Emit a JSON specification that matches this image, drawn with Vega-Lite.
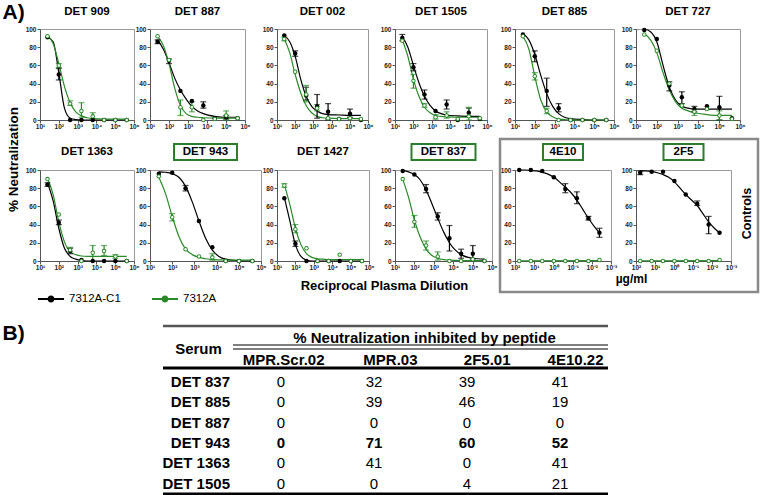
{
"$schema":"https://vega.github.io/schema/vega-lite/v6.json",
"background":"white",
"padding":{"left":1,"top":0,"right":0,"bottom":0},
"columns":6,
"align":"none",
"bounds":"flush",
"spacing":{"row":9,"column":16},
"config":{
 "view":{"stroke":"#9a9a9a","strokeWidth":1},
 "font":"Liberation Sans",
 "axis":{"labelFont":"Liberation Sans","labelFontSize":6.5,"labelFontWeight":"bold","labelColor":"#222","tickColor":"#555","domainColor":"#555","tickSize":3,"labelPadding":1,"grid":false,"titleFont":"Liberation Sans","titleFontWeight":"bold","titleColor":"#000","titleFontSize":13},
 "axisX":{"labelPadding":0}
},
"datasets":{
"t":[{"p":"DET 909"},{"p":"DET 887"},{"p":"DET 002"},{"p":"DET 1505"},{"p":"DET 885"},{"p":"DET 727"},{"p":"DET 1363"},{"p":"DET 943"},{"p":"DET 1427"},{"p":"DET 837"},{"p":"4E10"},{"p":"2F5"}],
"leg":[{"s":"7312A-C1"},{"s":"7312A"}],
"tlines":[{"r":"top"},{"r":"dbl"},{"r":"thick"},{"r":"bottom"}],
"thead":[{"t":"% Neutralization inhibited by peptide"},{"t":"Serum"}],
"tbl":[
{"serum":"DET 837","c":"MPR.Scr.02","v":0},{"serum":"DET 837","c":"MPR.03","v":32},{"serum":"DET 837","c":"2F5.01","v":39},{"serum":"DET 837","c":"4E10.22","v":41},
{"serum":"DET 885","c":"MPR.Scr.02","v":0},{"serum":"DET 885","c":"MPR.03","v":39},{"serum":"DET 885","c":"2F5.01","v":46},{"serum":"DET 885","c":"4E10.22","v":19},
{"serum":"DET 887","c":"MPR.Scr.02","v":0},{"serum":"DET 887","c":"MPR.03","v":0},{"serum":"DET 887","c":"2F5.01","v":0},{"serum":"DET 887","c":"4E10.22","v":0},
{"serum":"DET 943","c":"MPR.Scr.02","v":0},{"serum":"DET 943","c":"MPR.03","v":71},{"serum":"DET 943","c":"2F5.01","v":60},{"serum":"DET 943","c":"4E10.22","v":52},
{"serum":"DET 1363","c":"MPR.Scr.02","v":0},{"serum":"DET 1363","c":"MPR.03","v":41},{"serum":"DET 1363","c":"2F5.01","v":0},{"serum":"DET 1363","c":"4E10.22","v":41},
{"serum":"DET 1505","c":"MPR.Scr.02","v":0},{"serum":"DET 1505","c":"MPR.03","v":0},{"serum":"DET 1505","c":"2F5.01","v":4},{"serum":"DET 1505","c":"4E10.22","v":21}
],
"d":[
{"p":"DET 909","s":"7312A-C1","k":"p","x":25,"y":91},
{"p":"DET 909","s":"7312A-C1","k":"p","x":100,"y":50,"lo":44,"hi":57},
{"p":"DET 909","s":"7312A-C1","k":"p","x":400,"y":0},
{"p":"DET 909","s":"7312A-C1","k":"p","x":1600,"y":0},
{"p":"DET 909","s":"7312A-C1","k":"p","x":6400,"y":0},
{"p":"DET 909","s":"7312A-C1","k":"p","x":25600,"y":0},
{"p":"DET 909","s":"7312A-C1","k":"p","x":102400,"y":0},
{"p":"DET 909","s":"7312A-C1","k":"p","x":409600,"y":0},
{"p":"DET 909","s":"7312A","k":"p","x":25,"y":92},
{"p":"DET 909","s":"7312A","k":"p","x":100,"y":60,"lo":57,"hi":62},
{"p":"DET 909","s":"7312A","k":"p","x":400,"y":18,"lo":16,"hi":21},
{"p":"DET 909","s":"7312A","k":"p","x":1600,"y":10,"lo":3,"hi":19},
{"p":"DET 909","s":"7312A","k":"p","x":6400,"y":4,"lo":1,"hi":8},
{"p":"DET 909","s":"7312A","k":"p","x":25600,"y":0},
{"p":"DET 909","s":"7312A","k":"p","x":102400,"y":0},
{"p":"DET 909","s":"7312A","k":"p","x":409600,"y":0},
{"p":"DET 909","s":"7312A-C1","k":"f","x":25,"y":91},{"p":"DET 909","s":"7312A-C1","k":"f","x":50,"y":86},{"p":"DET 909","s":"7312A-C1","k":"f","x":100,"y":52},{"p":"DET 909","s":"7312A-C1","k":"f","x":200,"y":13},{"p":"DET 909","s":"7312A-C1","k":"f","x":400,"y":2},{"p":"DET 909","s":"7312A-C1","k":"f","x":800,"y":0.5},{"p":"DET 909","s":"7312A-C1","k":"f","x":1600,"y":0},{"p":"DET 909","s":"7312A-C1","k":"f","x":409600,"y":0},
{"p":"DET 909","s":"7312A","k":"f","x":25,"y":93},{"p":"DET 909","s":"7312A","k":"f","x":50,"y":84},{"p":"DET 909","s":"7312A","k":"f","x":100,"y":62},{"p":"DET 909","s":"7312A","k":"f","x":200,"y":37},{"p":"DET 909","s":"7312A","k":"f","x":400,"y":19},{"p":"DET 909","s":"7312A","k":"f","x":800,"y":9},{"p":"DET 909","s":"7312A","k":"f","x":1600,"y":4.5},{"p":"DET 909","s":"7312A","k":"f","x":3200,"y":2.5},{"p":"DET 909","s":"7312A","k":"f","x":6400,"y":1.5},{"p":"DET 909","s":"7312A","k":"f","x":25600,"y":1},{"p":"DET 909","s":"7312A","k":"f","x":409600,"y":1},

{"p":"DET 887","s":"7312A-C1","k":"p","x":25,"y":86,"lo":84,"hi":88},
{"p":"DET 887","s":"7312A-C1","k":"p","x":100,"y":65,"lo":62,"hi":67},
{"p":"DET 887","s":"7312A-C1","k":"p","x":400,"y":32},
{"p":"DET 887","s":"7312A-C1","k":"p","x":1600,"y":21},
{"p":"DET 887","s":"7312A-C1","k":"p","x":6400,"y":16,"lo":13,"hi":20},
{"p":"DET 887","s":"7312A-C1","k":"p","x":25600,"y":2},
{"p":"DET 887","s":"7312A-C1","k":"p","x":102400,"y":3,"lo":1,"hi":5},
{"p":"DET 887","s":"7312A-C1","k":"p","x":409600,"y":2},
{"p":"DET 887","s":"7312A","k":"p","x":25,"y":92},
{"p":"DET 887","s":"7312A","k":"p","x":100,"y":66},
{"p":"DET 887","s":"7312A","k":"p","x":400,"y":14,"lo":5,"hi":22},
{"p":"DET 887","s":"7312A","k":"p","x":1600,"y":14,"lo":9,"hi":20},
{"p":"DET 887","s":"7312A","k":"p","x":6400,"y":0},
{"p":"DET 887","s":"7312A","k":"p","x":25600,"y":1},
{"p":"DET 887","s":"7312A","k":"p","x":102400,"y":5,"lo":0,"hi":10},
{"p":"DET 887","s":"7312A","k":"p","x":409600,"y":2},
{"p":"DET 887","s":"7312A-C1","k":"f","x":25,"y":88},{"p":"DET 887","s":"7312A-C1","k":"f","x":50,"y":78},{"p":"DET 887","s":"7312A-C1","k":"f","x":100,"y":63},{"p":"DET 887","s":"7312A-C1","k":"f","x":200,"y":46},{"p":"DET 887","s":"7312A-C1","k":"f","x":400,"y":33},{"p":"DET 887","s":"7312A-C1","k":"f","x":800,"y":23},{"p":"DET 887","s":"7312A-C1","k":"f","x":1600,"y":15},{"p":"DET 887","s":"7312A-C1","k":"f","x":3200,"y":10},{"p":"DET 887","s":"7312A-C1","k":"f","x":6400,"y":7},{"p":"DET 887","s":"7312A-C1","k":"f","x":25600,"y":4},{"p":"DET 887","s":"7312A-C1","k":"f","x":102400,"y":3},{"p":"DET 887","s":"7312A-C1","k":"f","x":409600,"y":3},
{"p":"DET 887","s":"7312A","k":"f","x":25,"y":92},{"p":"DET 887","s":"7312A","k":"f","x":50,"y":82},{"p":"DET 887","s":"7312A","k":"f","x":100,"y":62},{"p":"DET 887","s":"7312A","k":"f","x":200,"y":35},{"p":"DET 887","s":"7312A","k":"f","x":400,"y":16},{"p":"DET 887","s":"7312A","k":"f","x":800,"y":7},{"p":"DET 887","s":"7312A","k":"f","x":1600,"y":4},{"p":"DET 887","s":"7312A","k":"f","x":3200,"y":3},{"p":"DET 887","s":"7312A","k":"f","x":6400,"y":2.5},{"p":"DET 887","s":"7312A","k":"f","x":25600,"y":2},{"p":"DET 887","s":"7312A","k":"f","x":409600,"y":2},

{"p":"DET 002","s":"7312A-C1","k":"p","x":25,"y":93},
{"p":"DET 002","s":"7312A-C1","k":"p","x":100,"y":73,"lo":70,"hi":76},
{"p":"DET 002","s":"7312A-C1","k":"p","x":400,"y":27,"lo":22,"hi":36},
{"p":"DET 002","s":"7312A-C1","k":"p","x":1600,"y":15,"lo":2,"hi":28},
{"p":"DET 002","s":"7312A-C1","k":"p","x":6400,"y":9,"lo":0,"hi":18},
{"p":"DET 002","s":"7312A-C1","k":"p","x":25600,"y":1},
{"p":"DET 002","s":"7312A-C1","k":"p","x":102400,"y":7,"lo":3,"hi":12},
{"p":"DET 002","s":"7312A-C1","k":"p","x":409600,"y":0},
{"p":"DET 002","s":"7312A","k":"p","x":25,"y":89,"lo":87,"hi":91},
{"p":"DET 002","s":"7312A","k":"p","x":100,"y":53},
{"p":"DET 002","s":"7312A","k":"p","x":400,"y":28,"lo":20,"hi":38},
{"p":"DET 002","s":"7312A","k":"p","x":1600,"y":13,"lo":10,"hi":17},
{"p":"DET 002","s":"7312A","k":"p","x":6400,"y":2},
{"p":"DET 002","s":"7312A","k":"p","x":25600,"y":1},
{"p":"DET 002","s":"7312A","k":"p","x":102400,"y":2},
{"p":"DET 002","s":"7312A","k":"p","x":409600,"y":1},
{"p":"DET 002","s":"7312A-C1","k":"f","x":25,"y":93},{"p":"DET 002","s":"7312A-C1","k":"f","x":50,"y":86},{"p":"DET 002","s":"7312A-C1","k":"f","x":100,"y":70},{"p":"DET 002","s":"7312A-C1","k":"f","x":200,"y":45},{"p":"DET 002","s":"7312A-C1","k":"f","x":400,"y":26},{"p":"DET 002","s":"7312A-C1","k":"f","x":800,"y":15},{"p":"DET 002","s":"7312A-C1","k":"f","x":1600,"y":10},{"p":"DET 002","s":"7312A-C1","k":"f","x":3200,"y":7},{"p":"DET 002","s":"7312A-C1","k":"f","x":6400,"y":6},{"p":"DET 002","s":"7312A-C1","k":"f","x":25600,"y":5.5},{"p":"DET 002","s":"7312A-C1","k":"f","x":102400,"y":5},{"p":"DET 002","s":"7312A-C1","k":"f","x":409600,"y":5},
{"p":"DET 002","s":"7312A","k":"f","x":25,"y":89},{"p":"DET 002","s":"7312A","k":"f","x":50,"y":74},{"p":"DET 002","s":"7312A","k":"f","x":100,"y":50},{"p":"DET 002","s":"7312A","k":"f","x":200,"y":30},{"p":"DET 002","s":"7312A","k":"f","x":400,"y":16},{"p":"DET 002","s":"7312A","k":"f","x":800,"y":8},{"p":"DET 002","s":"7312A","k":"f","x":1600,"y":4},{"p":"DET 002","s":"7312A","k":"f","x":3200,"y":2.5},{"p":"DET 002","s":"7312A","k":"f","x":6400,"y":2},{"p":"DET 002","s":"7312A","k":"f","x":25600,"y":1.5},{"p":"DET 002","s":"7312A","k":"f","x":409600,"y":1.5},

{"p":"DET 1505","s":"7312A-C1","k":"p","x":25,"y":90,"lo":87,"hi":94},
{"p":"DET 1505","s":"7312A-C1","k":"p","x":100,"y":58,"lo":54,"hi":62},
{"p":"DET 1505","s":"7312A-C1","k":"p","x":400,"y":28,"lo":23,"hi":33},
{"p":"DET 1505","s":"7312A-C1","k":"p","x":1600,"y":10},
{"p":"DET 1505","s":"7312A-C1","k":"p","x":6400,"y":17,"lo":12,"hi":22},
{"p":"DET 1505","s":"7312A-C1","k":"p","x":25600,"y":0},
{"p":"DET 1505","s":"7312A-C1","k":"p","x":102400,"y":8,"lo":4,"hi":13},
{"p":"DET 1505","s":"7312A-C1","k":"p","x":409600,"y":1},
{"p":"DET 1505","s":"7312A","k":"p","x":25,"y":87},
{"p":"DET 1505","s":"7312A","k":"p","x":100,"y":43,"lo":35,"hi":50},
{"p":"DET 1505","s":"7312A","k":"p","x":400,"y":16,"lo":14,"hi":18},
{"p":"DET 1505","s":"7312A","k":"p","x":1600,"y":3,"lo":1,"hi":6},
{"p":"DET 1505","s":"7312A","k":"p","x":6400,"y":5,"lo":2,"hi":9},
{"p":"DET 1505","s":"7312A","k":"p","x":25600,"y":1},
{"p":"DET 1505","s":"7312A","k":"p","x":102400,"y":4,"lo":0,"hi":14},
{"p":"DET 1505","s":"7312A","k":"p","x":409600,"y":2},
{"p":"DET 1505","s":"7312A-C1","k":"f","x":25,"y":91},{"p":"DET 1505","s":"7312A-C1","k":"f","x":50,"y":80},{"p":"DET 1505","s":"7312A-C1","k":"f","x":100,"y":60},{"p":"DET 1505","s":"7312A-C1","k":"f","x":200,"y":41},{"p":"DET 1505","s":"7312A-C1","k":"f","x":400,"y":26},{"p":"DET 1505","s":"7312A-C1","k":"f","x":800,"y":16},{"p":"DET 1505","s":"7312A-C1","k":"f","x":1600,"y":10},{"p":"DET 1505","s":"7312A-C1","k":"f","x":3200,"y":7},{"p":"DET 1505","s":"7312A-C1","k":"f","x":6400,"y":5.5},{"p":"DET 1505","s":"7312A-C1","k":"f","x":25600,"y":4.5},{"p":"DET 1505","s":"7312A-C1","k":"f","x":102400,"y":4},{"p":"DET 1505","s":"7312A-C1","k":"f","x":409600,"y":4},
{"p":"DET 1505","s":"7312A","k":"f","x":25,"y":88},{"p":"DET 1505","s":"7312A","k":"f","x":50,"y":70},{"p":"DET 1505","s":"7312A","k":"f","x":100,"y":45},{"p":"DET 1505","s":"7312A","k":"f","x":200,"y":26},{"p":"DET 1505","s":"7312A","k":"f","x":400,"y":14},{"p":"DET 1505","s":"7312A","k":"f","x":800,"y":8},{"p":"DET 1505","s":"7312A","k":"f","x":1600,"y":5},{"p":"DET 1505","s":"7312A","k":"f","x":3200,"y":4},{"p":"DET 1505","s":"7312A","k":"f","x":6400,"y":3.5},{"p":"DET 1505","s":"7312A","k":"f","x":25600,"y":3},{"p":"DET 1505","s":"7312A","k":"f","x":409600,"y":3},

{"p":"DET 885","s":"7312A-C1","k":"p","x":25,"y":94},
{"p":"DET 885","s":"7312A-C1","k":"p","x":100,"y":70,"lo":64,"hi":76},
{"p":"DET 885","s":"7312A-C1","k":"p","x":400,"y":32,"lo":15,"hi":46},
{"p":"DET 885","s":"7312A-C1","k":"p","x":1600,"y":13,"lo":9,"hi":18},
{"p":"DET 885","s":"7312A-C1","k":"p","x":6400,"y":0},
{"p":"DET 885","s":"7312A-C1","k":"p","x":25600,"y":0},
{"p":"DET 885","s":"7312A-C1","k":"p","x":102400,"y":0},
{"p":"DET 885","s":"7312A-C1","k":"p","x":409600,"y":0},
{"p":"DET 885","s":"7312A","k":"p","x":25,"y":92},
{"p":"DET 885","s":"7312A","k":"p","x":100,"y":48,"lo":44,"hi":52},
{"p":"DET 885","s":"7312A","k":"p","x":400,"y":10,"lo":7,"hi":13},
{"p":"DET 885","s":"7312A","k":"p","x":1600,"y":0},
{"p":"DET 885","s":"7312A","k":"p","x":6400,"y":0},
{"p":"DET 885","s":"7312A","k":"p","x":25600,"y":0},
{"p":"DET 885","s":"7312A","k":"p","x":102400,"y":0},
{"p":"DET 885","s":"7312A","k":"p","x":409600,"y":0},
{"p":"DET 885","s":"7312A-C1","k":"f","x":25,"y":95},{"p":"DET 885","s":"7312A-C1","k":"f","x":50,"y":88},{"p":"DET 885","s":"7312A-C1","k":"f","x":100,"y":72},{"p":"DET 885","s":"7312A-C1","k":"f","x":200,"y":49},{"p":"DET 885","s":"7312A-C1","k":"f","x":400,"y":29},{"p":"DET 885","s":"7312A-C1","k":"f","x":800,"y":15},{"p":"DET 885","s":"7312A-C1","k":"f","x":1600,"y":7},{"p":"DET 885","s":"7312A-C1","k":"f","x":3200,"y":3},{"p":"DET 885","s":"7312A-C1","k":"f","x":6400,"y":1.5},{"p":"DET 885","s":"7312A-C1","k":"f","x":25600,"y":0.5},{"p":"DET 885","s":"7312A-C1","k":"f","x":102400,"y":0},{"p":"DET 885","s":"7312A-C1","k":"f","x":409600,"y":0},
{"p":"DET 885","s":"7312A","k":"f","x":25,"y":92},{"p":"DET 885","s":"7312A","k":"f","x":50,"y":78},{"p":"DET 885","s":"7312A","k":"f","x":100,"y":48},{"p":"DET 885","s":"7312A","k":"f","x":200,"y":22},{"p":"DET 885","s":"7312A","k":"f","x":400,"y":9},{"p":"DET 885","s":"7312A","k":"f","x":800,"y":3.5},{"p":"DET 885","s":"7312A","k":"f","x":1600,"y":1},{"p":"DET 885","s":"7312A","k":"f","x":3200,"y":0.5},{"p":"DET 885","s":"7312A","k":"f","x":6400,"y":0},{"p":"DET 885","s":"7312A","k":"f","x":409600,"y":0},

{"p":"DET 727","s":"7312A-C1","k":"p","x":25,"y":99},
{"p":"DET 727","s":"7312A-C1","k":"p","x":100,"y":89},
{"p":"DET 727","s":"7312A-C1","k":"p","x":400,"y":38,"lo":32,"hi":42},
{"p":"DET 727","s":"7312A-C1","k":"p","x":1600,"y":25,"lo":18,"hi":31},
{"p":"DET 727","s":"7312A-C1","k":"p","x":6400,"y":12,"lo":9,"hi":15},
{"p":"DET 727","s":"7312A-C1","k":"p","x":25600,"y":15},
{"p":"DET 727","s":"7312A-C1","k":"p","x":102400,"y":14,"lo":0,"hi":26},
{"p":"DET 727","s":"7312A-C1","k":"p","x":409600,"y":2},
{"p":"DET 727","s":"7312A","k":"p","x":25,"y":94},
{"p":"DET 727","s":"7312A","k":"p","x":100,"y":76},
{"p":"DET 727","s":"7312A","k":"p","x":400,"y":40},
{"p":"DET 727","s":"7312A","k":"p","x":1600,"y":16},
{"p":"DET 727","s":"7312A","k":"p","x":6400,"y":9,"lo":5,"hi":12},
{"p":"DET 727","s":"7312A","k":"p","x":25600,"y":12},
{"p":"DET 727","s":"7312A","k":"p","x":102400,"y":5,"lo":0,"hi":10},
{"p":"DET 727","s":"7312A","k":"p","x":409600,"y":1},
{"p":"DET 727","s":"7312A-C1","k":"f","x":25,"y":100},{"p":"DET 727","s":"7312A-C1","k":"f","x":50,"y":97},{"p":"DET 727","s":"7312A-C1","k":"f","x":100,"y":86},{"p":"DET 727","s":"7312A-C1","k":"f","x":200,"y":60},{"p":"DET 727","s":"7312A-C1","k":"f","x":400,"y":36},{"p":"DET 727","s":"7312A-C1","k":"f","x":800,"y":22},{"p":"DET 727","s":"7312A-C1","k":"f","x":1600,"y":15},{"p":"DET 727","s":"7312A-C1","k":"f","x":3200,"y":13},{"p":"DET 727","s":"7312A-C1","k":"f","x":6400,"y":12},{"p":"DET 727","s":"7312A-C1","k":"f","x":25600,"y":12},{"p":"DET 727","s":"7312A-C1","k":"f","x":102400,"y":12},{"p":"DET 727","s":"7312A-C1","k":"f","x":409600,"y":12},
{"p":"DET 727","s":"7312A","k":"f","x":25,"y":95},{"p":"DET 727","s":"7312A","k":"f","x":50,"y":88},{"p":"DET 727","s":"7312A","k":"f","x":100,"y":74},{"p":"DET 727","s":"7312A","k":"f","x":200,"y":52},{"p":"DET 727","s":"7312A","k":"f","x":400,"y":33},{"p":"DET 727","s":"7312A","k":"f","x":800,"y":20},{"p":"DET 727","s":"7312A","k":"f","x":1600,"y":13},{"p":"DET 727","s":"7312A","k":"f","x":3200,"y":10},{"p":"DET 727","s":"7312A","k":"f","x":6400,"y":8},{"p":"DET 727","s":"7312A","k":"f","x":25600,"y":6},{"p":"DET 727","s":"7312A","k":"f","x":102400,"y":5},{"p":"DET 727","s":"7312A","k":"f","x":409600,"y":5},

{"p":"DET 1363","s":"7312A-C1","k":"p","x":25,"y":84,"lo":82,"hi":86},
{"p":"DET 1363","s":"7312A-C1","k":"p","x":100,"y":42,"lo":40,"hi":45},
{"p":"DET 1363","s":"7312A-C1","k":"p","x":400,"y":11,"lo":8,"hi":14},
{"p":"DET 1363","s":"7312A-C1","k":"p","x":1600,"y":1},
{"p":"DET 1363","s":"7312A-C1","k":"p","x":6400,"y":0},
{"p":"DET 1363","s":"7312A-C1","k":"p","x":25600,"y":0},
{"p":"DET 1363","s":"7312A-C1","k":"p","x":102400,"y":0},
{"p":"DET 1363","s":"7312A-C1","k":"p","x":409600,"y":0},
{"p":"DET 1363","s":"7312A","k":"p","x":25,"y":90},
{"p":"DET 1363","s":"7312A","k":"p","x":100,"y":51},
{"p":"DET 1363","s":"7312A","k":"p","x":400,"y":12,"lo":10,"hi":15},
{"p":"DET 1363","s":"7312A","k":"p","x":1600,"y":0},
{"p":"DET 1363","s":"7312A","k":"p","x":6400,"y":9,"lo":0,"hi":17},
{"p":"DET 1363","s":"7312A","k":"p","x":25600,"y":11,"lo":6,"hi":17},
{"p":"DET 1363","s":"7312A","k":"p","x":102400,"y":5,"lo":3,"hi":7},
{"p":"DET 1363","s":"7312A","k":"p","x":409600,"y":0},
{"p":"DET 1363","s":"7312A-C1","k":"f","x":25,"y":86},{"p":"DET 1363","s":"7312A-C1","k":"f","x":50,"y":66},{"p":"DET 1363","s":"7312A-C1","k":"f","x":100,"y":36},{"p":"DET 1363","s":"7312A-C1","k":"f","x":200,"y":14},{"p":"DET 1363","s":"7312A-C1","k":"f","x":400,"y":5},{"p":"DET 1363","s":"7312A-C1","k":"f","x":800,"y":2},{"p":"DET 1363","s":"7312A-C1","k":"f","x":1600,"y":0.5},{"p":"DET 1363","s":"7312A-C1","k":"f","x":3200,"y":0},{"p":"DET 1363","s":"7312A-C1","k":"f","x":409600,"y":0},
{"p":"DET 1363","s":"7312A","k":"f","x":25,"y":91},{"p":"DET 1363","s":"7312A","k":"f","x":50,"y":73},{"p":"DET 1363","s":"7312A","k":"f","x":100,"y":43},{"p":"DET 1363","s":"7312A","k":"f","x":200,"y":21},{"p":"DET 1363","s":"7312A","k":"f","x":400,"y":10},{"p":"DET 1363","s":"7312A","k":"f","x":800,"y":7},{"p":"DET 1363","s":"7312A","k":"f","x":1600,"y":5.5},{"p":"DET 1363","s":"7312A","k":"f","x":3200,"y":5},{"p":"DET 1363","s":"7312A","k":"f","x":409600,"y":5},

{"p":"DET 943","s":"7312A-C1","k":"p","x":25,"y":96},
{"p":"DET 943","s":"7312A-C1","k":"p","x":100,"y":97},
{"p":"DET 943","s":"7312A-C1","k":"p","x":400,"y":80,"lo":77,"hi":83},
{"p":"DET 943","s":"7312A-C1","k":"p","x":1600,"y":44},
{"p":"DET 943","s":"7312A-C1","k":"p","x":6400,"y":15},
{"p":"DET 943","s":"7312A-C1","k":"p","x":25600,"y":0},
{"p":"DET 943","s":"7312A-C1","k":"p","x":102400,"y":0},
{"p":"DET 943","s":"7312A-C1","k":"p","x":409600,"y":0},
{"p":"DET 943","s":"7312A","k":"p","x":25,"y":93},
{"p":"DET 943","s":"7312A","k":"p","x":100,"y":48,"lo":44,"hi":52},
{"p":"DET 943","s":"7312A","k":"p","x":400,"y":13},
{"p":"DET 943","s":"7312A","k":"p","x":1600,"y":5},
{"p":"DET 943","s":"7312A","k":"p","x":6400,"y":4,"lo":1,"hi":8},
{"p":"DET 943","s":"7312A","k":"p","x":25600,"y":0},
{"p":"DET 943","s":"7312A","k":"p","x":102400,"y":0},
{"p":"DET 943","s":"7312A","k":"p","x":409600,"y":0},
{"p":"DET 943","s":"7312A-C1","k":"f","x":25,"y":98},{"p":"DET 943","s":"7312A-C1","k":"f","x":50,"y":97.5},{"p":"DET 943","s":"7312A-C1","k":"f","x":100,"y":96},{"p":"DET 943","s":"7312A-C1","k":"f","x":200,"y":92},{"p":"DET 943","s":"7312A-C1","k":"f","x":400,"y":82},{"p":"DET 943","s":"7312A-C1","k":"f","x":800,"y":65},{"p":"DET 943","s":"7312A-C1","k":"f","x":1600,"y":44},{"p":"DET 943","s":"7312A-C1","k":"f","x":3200,"y":25},{"p":"DET 943","s":"7312A-C1","k":"f","x":6400,"y":12},{"p":"DET 943","s":"7312A-C1","k":"f","x":12800,"y":5},{"p":"DET 943","s":"7312A-C1","k":"f","x":25600,"y":2},{"p":"DET 943","s":"7312A-C1","k":"f","x":102400,"y":0.3},{"p":"DET 943","s":"7312A-C1","k":"f","x":409600,"y":0},
{"p":"DET 943","s":"7312A","k":"f","x":25,"y":92},{"p":"DET 943","s":"7312A","k":"f","x":50,"y":74},{"p":"DET 943","s":"7312A","k":"f","x":100,"y":49},{"p":"DET 943","s":"7312A","k":"f","x":200,"y":27},{"p":"DET 943","s":"7312A","k":"f","x":400,"y":13},{"p":"DET 943","s":"7312A","k":"f","x":800,"y":7},{"p":"DET 943","s":"7312A","k":"f","x":1600,"y":4},{"p":"DET 943","s":"7312A","k":"f","x":3200,"y":2.5},{"p":"DET 943","s":"7312A","k":"f","x":6400,"y":1.5},{"p":"DET 943","s":"7312A","k":"f","x":25600,"y":1},{"p":"DET 943","s":"7312A","k":"f","x":409600,"y":1},

{"p":"DET 1427","s":"7312A-C1","k":"p","x":25,"y":69},
{"p":"DET 1427","s":"7312A-C1","k":"p","x":100,"y":19,"lo":16,"hi":22},
{"p":"DET 1427","s":"7312A-C1","k":"p","x":400,"y":0},
{"p":"DET 1427","s":"7312A-C1","k":"p","x":1600,"y":0},
{"p":"DET 1427","s":"7312A-C1","k":"p","x":6400,"y":0},
{"p":"DET 1427","s":"7312A-C1","k":"p","x":25600,"y":0},
{"p":"DET 1427","s":"7312A-C1","k":"p","x":102400,"y":0},
{"p":"DET 1427","s":"7312A-C1","k":"p","x":409600,"y":0},
{"p":"DET 1427","s":"7312A","k":"p","x":25,"y":83,"lo":81,"hi":85},
{"p":"DET 1427","s":"7312A","k":"p","x":100,"y":35,"lo":31,"hi":40},
{"p":"DET 1427","s":"7312A","k":"p","x":400,"y":14},
{"p":"DET 1427","s":"7312A","k":"p","x":1600,"y":0},
{"p":"DET 1427","s":"7312A","k":"p","x":6400,"y":0},
{"p":"DET 1427","s":"7312A","k":"p","x":25600,"y":7},
{"p":"DET 1427","s":"7312A","k":"p","x":102400,"y":0},
{"p":"DET 1427","s":"7312A","k":"p","x":409600,"y":0},
{"p":"DET 1427","s":"7312A-C1","k":"f","x":25,"y":70},{"p":"DET 1427","s":"7312A-C1","k":"f","x":50,"y":44},{"p":"DET 1427","s":"7312A-C1","k":"f","x":100,"y":18},{"p":"DET 1427","s":"7312A-C1","k":"f","x":200,"y":5},{"p":"DET 1427","s":"7312A-C1","k":"f","x":400,"y":1},{"p":"DET 1427","s":"7312A-C1","k":"f","x":800,"y":0},{"p":"DET 1427","s":"7312A-C1","k":"f","x":409600,"y":0},
{"p":"DET 1427","s":"7312A","k":"f","x":25,"y":84},{"p":"DET 1427","s":"7312A","k":"f","x":50,"y":62},{"p":"DET 1427","s":"7312A","k":"f","x":100,"y":36},{"p":"DET 1427","s":"7312A","k":"f","x":200,"y":18},{"p":"DET 1427","s":"7312A","k":"f","x":400,"y":8},{"p":"DET 1427","s":"7312A","k":"f","x":800,"y":4},{"p":"DET 1427","s":"7312A","k":"f","x":1600,"y":2.5},{"p":"DET 1427","s":"7312A","k":"f","x":3200,"y":2},{"p":"DET 1427","s":"7312A","k":"f","x":6400,"y":1.5},{"p":"DET 1427","s":"7312A","k":"f","x":409600,"y":1.5},

{"p":"DET 837","s":"7312A-C1","k":"p","x":25,"y":99},
{"p":"DET 837","s":"7312A-C1","k":"p","x":100,"y":95},
{"p":"DET 837","s":"7312A-C1","k":"p","x":400,"y":79,"lo":75,"hi":84},
{"p":"DET 837","s":"7312A-C1","k":"p","x":1600,"y":49,"lo":45,"hi":53},
{"p":"DET 837","s":"7312A-C1","k":"p","x":6400,"y":25,"lo":11,"hi":39},
{"p":"DET 837","s":"7312A-C1","k":"p","x":25600,"y":8,"lo":3,"hi":13},
{"p":"DET 837","s":"7312A-C1","k":"p","x":102400,"y":8,"lo":2,"hi":17},
{"p":"DET 837","s":"7312A-C1","k":"p","x":409600,"y":0},
{"p":"DET 837","s":"7312A","k":"p","x":25,"y":90},
{"p":"DET 837","s":"7312A","k":"p","x":100,"y":43,"lo":37,"hi":50},
{"p":"DET 837","s":"7312A","k":"p","x":400,"y":17,"lo":12,"hi":22},
{"p":"DET 837","s":"7312A","k":"p","x":1600,"y":5,"lo":1,"hi":10},
{"p":"DET 837","s":"7312A","k":"p","x":6400,"y":0},
{"p":"DET 837","s":"7312A","k":"p","x":25600,"y":0},
{"p":"DET 837","s":"7312A","k":"p","x":102400,"y":2},
{"p":"DET 837","s":"7312A","k":"p","x":409600,"y":0},
{"p":"DET 837","s":"7312A-C1","k":"f","x":25,"y":99.5},{"p":"DET 837","s":"7312A-C1","k":"f","x":50,"y":98},{"p":"DET 837","s":"7312A-C1","k":"f","x":100,"y":95},{"p":"DET 837","s":"7312A-C1","k":"f","x":200,"y":89},{"p":"DET 837","s":"7312A-C1","k":"f","x":400,"y":78},{"p":"DET 837","s":"7312A-C1","k":"f","x":800,"y":63},{"p":"DET 837","s":"7312A-C1","k":"f","x":1600,"y":47},{"p":"DET 837","s":"7312A-C1","k":"f","x":3200,"y":32},{"p":"DET 837","s":"7312A-C1","k":"f","x":6400,"y":20},{"p":"DET 837","s":"7312A-C1","k":"f","x":25600,"y":7},{"p":"DET 837","s":"7312A-C1","k":"f","x":102400,"y":3},{"p":"DET 837","s":"7312A-C1","k":"f","x":409600,"y":2},
{"p":"DET 837","s":"7312A","k":"f","x":25,"y":90},{"p":"DET 837","s":"7312A","k":"f","x":50,"y":70},{"p":"DET 837","s":"7312A","k":"f","x":100,"y":45},{"p":"DET 837","s":"7312A","k":"f","x":200,"y":26},{"p":"DET 837","s":"7312A","k":"f","x":400,"y":13},{"p":"DET 837","s":"7312A","k":"f","x":800,"y":6},{"p":"DET 837","s":"7312A","k":"f","x":1600,"y":3},{"p":"DET 837","s":"7312A","k":"f","x":3200,"y":1.5},{"p":"DET 837","s":"7312A","k":"f","x":6400,"y":1},{"p":"DET 837","s":"7312A","k":"f","x":25600,"y":0.5},{"p":"DET 837","s":"7312A","k":"f","x":409600,"y":0.5},

{"p":"4E10","s":"7312A-C1","k":"p","x":60,"y":100},
{"p":"4E10","s":"7312A-C1","k":"p","x":15,"y":100},
{"p":"4E10","s":"7312A-C1","k":"p","x":3.8,"y":99},
{"p":"4E10","s":"7312A-C1","k":"p","x":0.95,"y":92},
{"p":"4E10","s":"7312A-C1","k":"p","x":0.24,"y":79,"lo":75,"hi":85},
{"p":"4E10","s":"7312A-C1","k":"p","x":0.06,"y":69,"lo":63,"hi":76},
{"p":"4E10","s":"7312A-C1","k":"p","x":0.015,"y":47,"lo":45,"hi":49},
{"p":"4E10","s":"7312A-C1","k":"p","x":0.004,"y":31,"lo":26,"hi":36},
{"p":"4E10","s":"7312A","k":"p","x":60,"y":0},
{"p":"4E10","s":"7312A","k":"p","x":15,"y":0},
{"p":"4E10","s":"7312A","k":"p","x":3.8,"y":0},
{"p":"4E10","s":"7312A","k":"p","x":0.95,"y":0},
{"p":"4E10","s":"7312A","k":"p","x":0.24,"y":0},
{"p":"4E10","s":"7312A","k":"p","x":0.06,"y":0},
{"p":"4E10","s":"7312A","k":"p","x":0.015,"y":0},
{"p":"4E10","s":"7312A","k":"p","x":0.004,"y":1},
{"p":"4E10","s":"7312A-C1","k":"f","x":60,"y":100},{"p":"4E10","s":"7312A-C1","k":"f","x":30,"y":100},{"p":"4E10","s":"7312A-C1","k":"f","x":15,"y":99.5},{"p":"4E10","s":"7312A-C1","k":"f","x":7.5,"y":99},{"p":"4E10","s":"7312A-C1","k":"f","x":3.8,"y":97.5},{"p":"4E10","s":"7312A-C1","k":"f","x":1.9,"y":95.5},{"p":"4E10","s":"7312A-C1","k":"f","x":0.95,"y":92},{"p":"4E10","s":"7312A-C1","k":"f","x":0.48,"y":87},{"p":"4E10","s":"7312A-C1","k":"f","x":0.24,"y":81},{"p":"4E10","s":"7312A-C1","k":"f","x":0.12,"y":75},{"p":"4E10","s":"7312A-C1","k":"f","x":0.06,"y":67},{"p":"4E10","s":"7312A-C1","k":"f","x":0.03,"y":57},{"p":"4E10","s":"7312A-C1","k":"f","x":0.015,"y":47},{"p":"4E10","s":"7312A-C1","k":"f","x":0.0075,"y":38},{"p":"4E10","s":"7312A-C1","k":"f","x":0.004,"y":31},
{"p":"4E10","s":"7312A","k":"f","x":60,"y":0.3},{"p":"4E10","s":"7312A","k":"f","x":0.004,"y":0.5},

{"p":"2F5","s":"7312A-C1","k":"p","x":60,"y":97,"lo":95,"hi":99},
{"p":"2F5","s":"7312A-C1","k":"p","x":15,"y":98},
{"p":"2F5","s":"7312A-C1","k":"p","x":3.8,"y":98},
{"p":"2F5","s":"7312A-C1","k":"p","x":0.95,"y":88},
{"p":"2F5","s":"7312A-C1","k":"p","x":0.24,"y":73},
{"p":"2F5","s":"7312A-C1","k":"p","x":0.06,"y":63,"lo":61,"hi":66},
{"p":"2F5","s":"7312A-C1","k":"p","x":0.015,"y":40,"lo":30,"hi":49},
{"p":"2F5","s":"7312A-C1","k":"p","x":0.004,"y":31},
{"p":"2F5","s":"7312A","k":"p","x":60,"y":0},
{"p":"2F5","s":"7312A","k":"p","x":15,"y":0},
{"p":"2F5","s":"7312A","k":"p","x":3.8,"y":0},
{"p":"2F5","s":"7312A","k":"p","x":0.95,"y":0},
{"p":"2F5","s":"7312A","k":"p","x":0.24,"y":0},
{"p":"2F5","s":"7312A","k":"p","x":0.06,"y":0},
{"p":"2F5","s":"7312A","k":"p","x":0.015,"y":0},
{"p":"2F5","s":"7312A","k":"p","x":0.004,"y":1},
{"p":"2F5","s":"7312A-C1","k":"f","x":60,"y":99},{"p":"2F5","s":"7312A-C1","k":"f","x":30,"y":99},{"p":"2F5","s":"7312A-C1","k":"f","x":15,"y":98.5},{"p":"2F5","s":"7312A-C1","k":"f","x":7.5,"y":97},{"p":"2F5","s":"7312A-C1","k":"f","x":3.8,"y":95},{"p":"2F5","s":"7312A-C1","k":"f","x":1.9,"y":92},{"p":"2F5","s":"7312A-C1","k":"f","x":0.95,"y":87},{"p":"2F5","s":"7312A-C1","k":"f","x":0.48,"y":80},{"p":"2F5","s":"7312A-C1","k":"f","x":0.24,"y":73},{"p":"2F5","s":"7312A-C1","k":"f","x":0.12,"y":67},{"p":"2F5","s":"7312A-C1","k":"f","x":0.06,"y":61},{"p":"2F5","s":"7312A-C1","k":"f","x":0.03,"y":52},{"p":"2F5","s":"7312A-C1","k":"f","x":0.015,"y":43},{"p":"2F5","s":"7312A-C1","k":"f","x":0.0075,"y":36},{"p":"2F5","s":"7312A-C1","k":"f","x":0.004,"y":31},
{"p":"2F5","s":"7312A","k":"f","x":60,"y":0.3},{"p":"2F5","s":"7312A","k":"f","x":0.004,"y":0.5}
]
},
"concat":[
{"width":94,"height":16,"view":{"stroke":null},"data":{"name":"t"},"transform":[{"filter":"datum.p=='DET 909'"}],"mark":{"type":"text","font":"Liberation Sans","fontSize":11.5,"fontWeight":"bold"},"encoding":{"text":{"field":"p"}}},
{"width":95,"height":16,"view":{"stroke":null},"data":{"name":"t"},"transform":[{"filter":"datum.p=='DET 887'"}],"mark":{"type":"text","font":"Liberation Sans","fontSize":11.5,"fontWeight":"bold"},"encoding":{"text":{"field":"p"}}},
{"width":102,"height":16,"view":{"stroke":null},"data":{"name":"t"},"transform":[{"filter":"datum.p=='DET 002'"}],"mark":{"type":"text","font":"Liberation Sans","fontSize":11.5,"fontWeight":"bold","dx":-5.5},"encoding":{"text":{"field":"p"}}},
{"width":104,"height":16,"view":{"stroke":null},"data":{"name":"t"},"transform":[{"filter":"datum.p=='DET 1505'"}],"mark":{"type":"text","font":"Liberation Sans","fontSize":11.5,"fontWeight":"bold","dx":-6},"encoding":{"text":{"field":"p"}}},
{"width":105,"height":16,"view":{"stroke":null},"data":{"name":"t"},"transform":[{"filter":"datum.p=='DET 885'"}],"mark":{"type":"text","font":"Liberation Sans","fontSize":11.5,"fontWeight":"bold","dx":-3},"encoding":{"text":{"field":"p"}}},
{"width":104,"height":16,"view":{"stroke":null},"data":{"name":"t"},"transform":[{"filter":"datum.p=='DET 727'"}],"mark":{"type":"text","font":"Liberation Sans","fontSize":11.5,"fontWeight":"bold"},"encoding":{"text":{"field":"p"}}},

{"width":94,"height":91,"data":{"name":"d"},"transform":[{"filter":"datum.p=='DET 909'"}],
 "encoding":{"x":{"field":"x","type":"quantitative","title":"A)","scale":{"type":"log","domain":[10,1000000],"nice":false},"axis":{"values":[10,100,1000,10000,100000,1000000],"labelExpr":"'10'+(datum.value<1?'⁻':'')+['⁰','¹','²','³','⁴','⁵','⁶'][abs(round(log(datum.value)/LN10))]","labelFlush":false,"labelOverlap":false,"titleX":-38,"titleY":-119,"titleAlign":"left","titleBaseline":"top","titleFontSize":21,"titleAngle":0}},
  "y":{"field":"y","type":"quantitative","title":"% Neutralization","scale":{"domain":[0,100],"nice":false},"axis":{"values":[0,20,40,60,80,100],"titleX":-27,"titleY":130,"titleFontSize":13.5,"titleBaseline":"middle","titleAlign":"center"}},
  "color":{"field":"s","type":"nominal","scale":{"domain":["7312A-C1","7312A"],"range":["#000000","#2a8a2a"]},"legend":null}},
 "layer":[
  {"transform":[{"filter":"datum.k=='f'"}],"mark":{"type":"line","interpolate":"monotone","strokeWidth":1.2}},
  {"transform":[{"filter":"datum.lo!=null"}],"mark":{"type":"errorbar","ticks":{"size":6},"thickness":1.2},"encoding":{"y":{"field":"lo","type":"quantitative","title":"% Neutralization","scale":{"domain":[0,100],"nice":false},"axis":{"values":[0,20,40,60,80,100],"titleX":-27,"titleY":130,"titleFontSize":13.5,"titleBaseline":"middle","titleAlign":"center"}},"y2":{"field":"hi"}}},
  {"transform":[{"filter":"datum.k=='p'"}],"mark":{"type":"point","filled":true,"size":20,"opacity":1}},
  {"transform":[{"filter":"datum.k=='p'&&datum.s=='7312A'"}],"mark":{"type":"point","filled":true,"size":6,"opacity":1},"encoding":{"color":{"value":"white"}}}
 ]},
{"width":95,"height":91,"data":{"name":"d"},"transform":[{"filter":"datum.p=='DET 887'"}],
 "encoding":{"x":{"field":"x","type":"quantitative","title":null,"scale":{"type":"log","domain":[10,1000000],"nice":false},"axis":{"values":[10,100,1000,10000,100000,1000000],"labelExpr":"'10'+(datum.value<1?'⁻':'')+['⁰','¹','²','³','⁴','⁵','⁶'][abs(round(log(datum.value)/LN10))]","labelFlush":false,"labelOverlap":false}},
  "y":{"field":"y","type":"quantitative","title":null,"scale":{"domain":[0,100],"nice":false},"axis":{"values":[0,20,40,60,80,100]}},
  "color":{"field":"s","type":"nominal","scale":{"domain":["7312A-C1","7312A"],"range":["#000000","#2a8a2a"]},"legend":null}},
 "layer":[
  {"transform":[{"filter":"datum.k=='f'"}],"mark":{"type":"line","interpolate":"monotone","strokeWidth":1.2}},
  {"transform":[{"filter":"datum.lo!=null"}],"mark":{"type":"errorbar","ticks":{"size":6},"thickness":1.2},"encoding":{"y":{"field":"lo","type":"quantitative","title":null,"scale":{"domain":[0,100],"nice":false},"axis":{"values":[0,20,40,60,80,100]}},"y2":{"field":"hi"}}},
  {"transform":[{"filter":"datum.k=='p'"}],"mark":{"type":"point","filled":true,"size":20,"opacity":1}},
  {"transform":[{"filter":"datum.k=='p'&&datum.s=='7312A'"}],"mark":{"type":"point","filled":true,"size":6,"opacity":1},"encoding":{"color":{"value":"white"}}}
 ]},
{"width":91,"height":91,"data":{"name":"d"},"transform":[{"filter":"datum.p=='DET 002'"}],
 "encoding":{"x":{"field":"x","type":"quantitative","title":null,"scale":{"type":"log","domain":[10,1000000],"nice":false},"axis":{"values":[10,100,1000,10000,100000,1000000],"labelExpr":"'10'+(datum.value<1?'⁻':'')+['⁰','¹','²','³','⁴','⁵','⁶'][abs(round(log(datum.value)/LN10))]","labelFlush":false,"labelOverlap":false}},
  "y":{"field":"y","type":"quantitative","title":null,"scale":{"domain":[0,100],"nice":false},"axis":{"values":[0,20,40,60,80,100]}},
  "color":{"field":"s","type":"nominal","scale":{"domain":["7312A-C1","7312A"],"range":["#000000","#2a8a2a"]},"legend":null}},
 "layer":[
  {"transform":[{"filter":"datum.k=='f'"}],"mark":{"type":"line","interpolate":"monotone","strokeWidth":1.2}},
  {"transform":[{"filter":"datum.lo!=null"}],"mark":{"type":"errorbar","ticks":{"size":6},"thickness":1.2},"encoding":{"y":{"field":"lo","type":"quantitative","title":null,"scale":{"domain":[0,100],"nice":false},"axis":{"values":[0,20,40,60,80,100]}},"y2":{"field":"hi"}}},
  {"transform":[{"filter":"datum.k=='p'"}],"mark":{"type":"point","filled":true,"size":20,"opacity":1}},
  {"transform":[{"filter":"datum.k=='p'&&datum.s=='7312A'"}],"mark":{"type":"point","filled":true,"size":6,"opacity":1},"encoding":{"color":{"value":"white"}}}
 ]},
{"width":92,"height":91,"data":{"name":"d"},"transform":[{"filter":"datum.p=='DET 1505'"}],
 "encoding":{"x":{"field":"x","type":"quantitative","title":null,"scale":{"type":"log","domain":[10,1000000],"nice":false},"axis":{"values":[10,100,1000,10000,100000,1000000],"labelExpr":"'10'+(datum.value<1?'⁻':'')+['⁰','¹','²','³','⁴','⁵','⁶'][abs(round(log(datum.value)/LN10))]","labelFlush":false,"labelOverlap":false}},
  "y":{"field":"y","type":"quantitative","title":null,"scale":{"domain":[0,100],"nice":false},"axis":{"values":[0,20,40,60,80,100]}},
  "color":{"field":"s","type":"nominal","scale":{"domain":["7312A-C1","7312A"],"range":["#000000","#2a8a2a"]},"legend":null}},
 "layer":[
  {"transform":[{"filter":"datum.k=='f'"}],"mark":{"type":"line","interpolate":"monotone","strokeWidth":1.2}},
  {"transform":[{"filter":"datum.lo!=null"}],"mark":{"type":"errorbar","ticks":{"size":6},"thickness":1.2},"encoding":{"y":{"field":"lo","type":"quantitative","title":null,"scale":{"domain":[0,100],"nice":false},"axis":{"values":[0,20,40,60,80,100]}},"y2":{"field":"hi"}}},
  {"transform":[{"filter":"datum.k=='p'"}],"mark":{"type":"point","filled":true,"size":20,"opacity":1}},
  {"transform":[{"filter":"datum.k=='p'&&datum.s=='7312A'"}],"mark":{"type":"point","filled":true,"size":6,"opacity":1},"encoding":{"color":{"value":"white"}}}
 ]},
{"width":99,"height":91,"data":{"name":"d"},"transform":[{"filter":"datum.p=='DET 885'"}],
 "encoding":{"x":{"field":"x","type":"quantitative","title":null,"scale":{"type":"log","domain":[10,1000000],"nice":false},"axis":{"values":[10,100,1000,10000,100000,1000000],"labelExpr":"'10'+(datum.value<1?'⁻':'')+['⁰','¹','²','³','⁴','⁵','⁶'][abs(round(log(datum.value)/LN10))]","labelFlush":false,"labelOverlap":false}},
  "y":{"field":"y","type":"quantitative","title":null,"scale":{"domain":[0,100],"nice":false},"axis":{"values":[0,20,40,60,80,100]}},
  "color":{"field":"s","type":"nominal","scale":{"domain":["7312A-C1","7312A"],"range":["#000000","#2a8a2a"]},"legend":null}},
 "layer":[
  {"transform":[{"filter":"datum.k=='f'"}],"mark":{"type":"line","interpolate":"monotone","strokeWidth":1.2}},
  {"transform":[{"filter":"datum.lo!=null"}],"mark":{"type":"errorbar","ticks":{"size":6},"thickness":1.2},"encoding":{"y":{"field":"lo","type":"quantitative","title":null,"scale":{"domain":[0,100],"nice":false},"axis":{"values":[0,20,40,60,80,100]}},"y2":{"field":"hi"}}},
  {"transform":[{"filter":"datum.k=='p'"}],"mark":{"type":"point","filled":true,"size":20,"opacity":1}},
  {"transform":[{"filter":"datum.k=='p'&&datum.s=='7312A'"}],"mark":{"type":"point","filled":true,"size":6,"opacity":1},"encoding":{"color":{"value":"white"}}}
 ]},
{"width":104,"height":91,"data":{"name":"d"},"transform":[{"filter":"datum.p=='DET 727'"}],
 "encoding":{"x":{"field":"x","type":"quantitative","title":null,"scale":{"type":"log","domain":[10,1000000],"nice":false},"axis":{"values":[10,100,1000,10000,100000,1000000],"labelExpr":"'10'+(datum.value<1?'⁻':'')+['⁰','¹','²','³','⁴','⁵','⁶'][abs(round(log(datum.value)/LN10))]","labelFlush":false,"labelOverlap":false}},
  "y":{"field":"y","type":"quantitative","title":null,"scale":{"domain":[0,100],"nice":false},"axis":{"values":[0,20,40,60,80,100]}},
  "color":{"field":"s","type":"nominal","scale":{"domain":["7312A-C1","7312A"],"range":["#000000","#2a8a2a"]},"legend":null}},
 "layer":[
  {"transform":[{"filter":"datum.k=='f'"}],"mark":{"type":"line","interpolate":"monotone","strokeWidth":1.2}},
  {"transform":[{"filter":"datum.lo!=null"}],"mark":{"type":"errorbar","ticks":{"size":6},"thickness":1.2},"encoding":{"y":{"field":"lo","type":"quantitative","title":null,"scale":{"domain":[0,100],"nice":false},"axis":{"values":[0,20,40,60,80,100]}},"y2":{"field":"hi"}}},
  {"transform":[{"filter":"datum.k=='p'"}],"mark":{"type":"point","filled":true,"size":20,"opacity":1}},
  {"transform":[{"filter":"datum.k=='p'&&datum.s=='7312A'"}],"mark":{"type":"point","filled":true,"size":6,"opacity":1},"encoding":{"color":{"value":"white"}}}
 ]},

{"width":94,"height":32,"view":{"stroke":null},"data":{"name":"t"},"transform":[{"filter":"datum.p=='DET 1363'"}],"mark":{"type":"text","font":"Liberation Sans","fontSize":11.5,"fontWeight":"bold","dy":7},"encoding":{"text":{"field":"p"}}},
{"width":111,"height":32,"view":{"stroke":null},"data":{"name":"t"},"transform":[{"filter":"datum.p=='DET 943'"}],"layer":[{"mark":{"type":"text","font":"Liberation Sans","fontSize":11.5,"fontWeight":"bold","dy":7},"encoding":{"text":{"field":"p"}}},{"mark":{"type":"point","shape":"M-31.5,-1H31.5V15H-31.5Z","size":4,"filled":false,"color":"#2d7d2d","strokeWidth":2,"opacity":1}}]},
{"width":92,"height":32,"view":{"stroke":null},"data":{"name":"t"},"transform":[{"filter":"datum.p=='DET 1427'"}],"mark":{"type":"text","font":"Liberation Sans","fontSize":11.5,"fontWeight":"bold","dy":7},"encoding":{"text":{"field":"p"}}},
{"width":97,"height":32,"view":{"stroke":null},"data":{"name":"t"},"transform":[{"filter":"datum.p=='DET 837'"}],"layer":[{"mark":{"type":"text","font":"Liberation Sans","fontSize":11.5,"fontWeight":"bold","dy":7},"encoding":{"text":{"field":"p"}}},{"mark":{"type":"point","shape":"M-32,-1H32V15H-32Z","size":4,"filled":false,"color":"#2d7d2d","strokeWidth":2,"opacity":1}}]},
{"width":96,"height":32,"view":{"stroke":null},"data":{"name":"t"},"transform":[{"filter":"datum.p=='4E10'"}],"layer":[{"mark":{"type":"text","font":"Liberation Sans","fontSize":11.5,"fontWeight":"bold","dy":7},"encoding":{"text":{"field":"p"}}},{"mark":{"type":"point","shape":"M-20,-1H20V15H-20Z","size":4,"filled":false,"color":"#2d7d2d","strokeWidth":2,"opacity":1}}]},
{"width":95,"height":32,"view":{"stroke":null},"data":{"name":"t"},"transform":[{"filter":"datum.p=='2F5'"}],"layer":[{"mark":{"type":"text","font":"Liberation Sans","fontSize":11.5,"fontWeight":"bold","dy":7},"encoding":{"text":{"field":"p"}}},{"mark":{"type":"point","shape":"M-20,-1H20V15H-20Z","size":4,"filled":false,"color":"#2d7d2d","strokeWidth":2,"opacity":1}},{"mark":{"type":"point","shape":"M-183.5,-6H74.5V147H-183.5Z","size":4,"filled":false,"color":"#8a8a8a","strokeWidth":2.5,"opacity":1}}]},

{"width":94,"height":91,"data":{"name":"d"},"transform":[{"filter":"datum.p=='DET 1363'"}],
 "encoding":{"x":{"field":"x","type":"quantitative","title":"B)","scale":{"type":"log","domain":[10,1000000],"nice":false},"axis":{"values":[10,100,1000,10000,100000,1000000],"labelExpr":"'10'+(datum.value<1?'⁻':'')+['⁰','¹','²','³','⁴','⁵','⁶'][abs(round(log(datum.value)/LN10))]","labelFlush":false,"labelOverlap":false,"titleX":-38,"titleY":61,"titleAlign":"left","titleBaseline":"top","titleFontSize":21,"titleAngle":0}},
  "y":{"field":"y","type":"quantitative","title":null,"scale":{"domain":[0,100],"nice":false},"axis":{"values":[0,20,40,60,80,100]}},
  "color":{"field":"s","type":"nominal","scale":{"domain":["7312A-C1","7312A"],"range":["#000000","#2a8a2a"]},"legend":null}},
 "layer":[
  {"transform":[{"filter":"datum.k=='f'"}],"mark":{"type":"line","interpolate":"monotone","strokeWidth":1.2}},
  {"transform":[{"filter":"datum.lo!=null"}],"mark":{"type":"errorbar","ticks":{"size":6},"thickness":1.2},"encoding":{"y":{"field":"lo","type":"quantitative","title":null,"scale":{"domain":[0,100],"nice":false},"axis":{"values":[0,20,40,60,80,100]}},"y2":{"field":"hi"}}},
  {"transform":[{"filter":"datum.k=='p'"}],"mark":{"type":"point","filled":true,"size":20,"opacity":1}},
  {"transform":[{"filter":"datum.k=='p'&&datum.s=='7312A'"}],"mark":{"type":"point","filled":true,"size":6,"opacity":1},"encoding":{"color":{"value":"white"}}}
 ]},
{"width":111,"height":91,"data":{"name":"d"},"transform":[{"filter":"datum.p=='DET 943'"}],
 "encoding":{"x":{"field":"x","type":"quantitative","title":null,"scale":{"type":"log","domain":[10,1000000],"nice":false},"axis":{"values":[10,100,1000,10000,100000,1000000],"labelExpr":"'10'+(datum.value<1?'⁻':'')+['⁰','¹','²','³','⁴','⁵','⁶'][abs(round(log(datum.value)/LN10))]","labelFlush":false,"labelOverlap":false}},
  "y":{"field":"y","type":"quantitative","title":null,"scale":{"domain":[0,100],"nice":false},"axis":{"values":[0,20,40,60,80,100]}},
  "color":{"field":"s","type":"nominal","scale":{"domain":["7312A-C1","7312A"],"range":["#000000","#2a8a2a"]},"legend":null}},
 "layer":[
  {"transform":[{"filter":"datum.k=='f'"}],"mark":{"type":"line","interpolate":"monotone","strokeWidth":1.2}},
  {"transform":[{"filter":"datum.lo!=null"}],"mark":{"type":"errorbar","ticks":{"size":6},"thickness":1.2},"encoding":{"y":{"field":"lo","type":"quantitative","title":null,"scale":{"domain":[0,100],"nice":false},"axis":{"values":[0,20,40,60,80,100]}},"y2":{"field":"hi"}}},
  {"transform":[{"filter":"datum.k=='p'"}],"mark":{"type":"point","filled":true,"size":20,"opacity":1}},
  {"transform":[{"filter":"datum.k=='p'&&datum.s=='7312A'"}],"mark":{"type":"point","filled":true,"size":6,"opacity":1},"encoding":{"color":{"value":"white"}}}
 ]},
{"width":92,"height":91,"data":{"name":"d"},"transform":[{"filter":"datum.p=='DET 1427'"}],
 "encoding":{"x":{"field":"x","type":"quantitative","title":"Reciprocal Plasma Dilution","scale":{"type":"log","domain":[10,1000000],"nice":false},"axis":{"values":[10,100,1000,10000,100000,1000000],"labelExpr":"'10'+(datum.value<1?'⁻':'')+['⁰','¹','²','³','⁴','⁵','⁶'][abs(round(log(datum.value)/LN10))]","labelFlush":false,"labelOverlap":false,"titleX":107,"titleY":24,"titleFontSize":13,"titleBaseline":"middle","titleAlign":"center"}},
  "y":{"field":"y","type":"quantitative","title":null,"scale":{"domain":[0,100],"nice":false},"axis":{"values":[0,20,40,60,80,100]}},
  "color":{"field":"s","type":"nominal","scale":{"domain":["7312A-C1","7312A"],"range":["#000000","#2a8a2a"]},"legend":null}},
 "layer":[
  {"transform":[{"filter":"datum.k=='f'"}],"mark":{"type":"line","interpolate":"monotone","strokeWidth":1.2}},
  {"transform":[{"filter":"datum.lo!=null"}],"mark":{"type":"errorbar","ticks":{"size":6},"thickness":1.2},"encoding":{"y":{"field":"lo","type":"quantitative","title":null,"scale":{"domain":[0,100],"nice":false},"axis":{"values":[0,20,40,60,80,100]}},"y2":{"field":"hi"}}},
  {"transform":[{"filter":"datum.k=='p'"}],"mark":{"type":"point","filled":true,"size":20,"opacity":1}},
  {"transform":[{"filter":"datum.k=='p'&&datum.s=='7312A'"}],"mark":{"type":"point","filled":true,"size":6,"opacity":1},"encoding":{"color":{"value":"white"}}}
 ]},
{"width":97,"height":91,"data":{"name":"d"},"transform":[{"filter":"datum.p=='DET 837'"}],
 "encoding":{"x":{"field":"x","type":"quantitative","title":null,"scale":{"type":"log","domain":[10,1000000],"nice":false},"axis":{"values":[10,100,1000,10000,100000,1000000],"labelExpr":"'10'+(datum.value<1?'⁻':'')+['⁰','¹','²','³','⁴','⁵','⁶'][abs(round(log(datum.value)/LN10))]","labelFlush":false,"labelOverlap":false}},
  "y":{"field":"y","type":"quantitative","title":null,"scale":{"domain":[0,100],"nice":false},"axis":{"values":[0,20,40,60,80,100]}},
  "color":{"field":"s","type":"nominal","scale":{"domain":["7312A-C1","7312A"],"range":["#000000","#2a8a2a"]},"legend":null}},
 "layer":[
  {"transform":[{"filter":"datum.k=='f'"}],"mark":{"type":"line","interpolate":"monotone","strokeWidth":1.2}},
  {"transform":[{"filter":"datum.lo!=null"}],"mark":{"type":"errorbar","ticks":{"size":6},"thickness":1.2},"encoding":{"y":{"field":"lo","type":"quantitative","title":null,"scale":{"domain":[0,100],"nice":false},"axis":{"values":[0,20,40,60,80,100]}},"y2":{"field":"hi"}}},
  {"transform":[{"filter":"datum.k=='p'"}],"mark":{"type":"point","filled":true,"size":20,"opacity":1}},
  {"transform":[{"filter":"datum.k=='p'&&datum.s=='7312A'"}],"mark":{"type":"point","filled":true,"size":6,"opacity":1},"encoding":{"color":{"value":"white"}}}
 ]},
{"width":96,"height":91,"data":{"name":"d"},"transform":[{"filter":"datum.p=='4E10'"}],
 "encoding":{"x":{"field":"x","type":"quantitative","title":null,"scale":{"type":"log","domain":[0.001,100],"reverse":true,"nice":false},"axis":{"values":[100,10,1,0.1,0.01,0.001],"labelExpr":"'10'+(datum.value<1?'⁻':'')+['⁰','¹','²','³','⁴','⁵','⁶'][abs(round(log(datum.value)/LN10))]","labelFlush":false,"labelOverlap":false}},
  "y":{"field":"y","type":"quantitative","title":null,"scale":{"domain":[0,100],"nice":false},"axis":{"values":[0,20,40,60,80,100]}},
  "color":{"field":"s","type":"nominal","scale":{"domain":["7312A-C1","7312A"],"range":["#000000","#2a8a2a"]},"legend":null}},
 "layer":[
  {"transform":[{"filter":"datum.k=='f'"}],"mark":{"type":"line","interpolate":"monotone","strokeWidth":1.2}},
  {"transform":[{"filter":"datum.lo!=null"}],"mark":{"type":"errorbar","ticks":{"size":6},"thickness":1.2},"encoding":{"y":{"field":"lo","type":"quantitative","title":null,"scale":{"domain":[0,100],"nice":false},"axis":{"values":[0,20,40,60,80,100]}},"y2":{"field":"hi"}}},
  {"transform":[{"filter":"datum.k=='p'"}],"mark":{"type":"point","filled":true,"size":20,"opacity":1}},
  {"transform":[{"filter":"datum.k=='p'&&datum.s=='7312A'"}],"mark":{"type":"point","filled":true,"size":6,"opacity":1},"encoding":{"color":{"value":"white"}}}
 ]},
{"width":95,"height":91,"data":{"name":"d"},"transform":[{"filter":"datum.p=='2F5'"}],
 "encoding":{"x":{"field":"x","type":"quantitative","title":"µg/ml","scale":{"type":"log","domain":[0.001,100],"reverse":true,"nice":false},"axis":{"values":[100,10,1,0.1,0.01,0.001],"labelExpr":"'10'+(datum.value<1?'⁻':'')+['⁰','¹','²','³','⁴','⁵','⁶'][abs(round(log(datum.value)/LN10))]","labelFlush":false,"labelOverlap":false,"titleX":-5,"titleY":17,"titleFontSize":12,"titleBaseline":"middle","titleAlign":"center"}},
  "y":{"field":"y","type":"quantitative","title":"Controls","scale":{"domain":[0,100],"nice":false},"axis":{"values":[0,20,40,60,80,100],"titleX":110,"titleY":43,"titleFontSize":12.5,"titleBaseline":"middle","titleAlign":"center"}},
  "color":{"field":"s","type":"nominal","scale":{"domain":["7312A-C1","7312A"],"range":["#000000","#2a8a2a"]},"legend":null}},
 "layer":[
  {"transform":[{"filter":"datum.k=='f'"}],"mark":{"type":"line","interpolate":"monotone","strokeWidth":1.2}},
  {"transform":[{"filter":"datum.lo!=null"}],"mark":{"type":"errorbar","ticks":{"size":6},"thickness":1.2},"encoding":{"y":{"field":"lo","type":"quantitative","title":"Controls","scale":{"domain":[0,100],"nice":false},"axis":{"values":[0,20,40,60,80,100],"titleX":110,"titleY":43,"titleFontSize":12.5,"titleBaseline":"middle","titleAlign":"center"}},"y2":{"field":"hi"}}},
  {"transform":[{"filter":"datum.k=='p'"}],"mark":{"type":"point","filled":true,"size":20,"opacity":1}},
  {"transform":[{"filter":"datum.k=='p'&&datum.s=='7312A'"}],"mark":{"type":"point","filled":true,"size":6,"opacity":1},"encoding":{"color":{"value":"white"}}}
 ]},

{"width":94,"height":224,"view":{"stroke":null},
 "resolve":{"scale":{"y":"independent"}},
 "layer":[
  {"layer":[
    {"data":{"name":"tlines"},"transform":[{"filter":"datum.r=='top'"}],"mark":{"type":"rule","color":"#555","strokeWidth":2.5,"xOffset":-25,"x2Offset":48},
     "encoding":{"y":{"field":"r","type":"nominal","scale":{"type":"point","domain":["top","span","dbl","sub","thick"],"range":[56,98],"padding":0},"axis":null},"x":{"datum":"Serum","type":"nominal","scale":{"type":"point","domain":["Serum","MPR.Scr.02","MPR.03","2F5.01","4E10.22"],"range":[148,520],"padding":0},"axis":null},"x2":{"datum":"4E10.22"}}},
    {"data":{"name":"tlines"},"transform":[{"filter":"datum.r=='dbl'"}],"mark":{"type":"rule","color":"#555","strokeWidth":5.5,"xOffset":45,"x2Offset":48},
     "encoding":{"y":{"field":"r","type":"nominal","scale":{"type":"point","domain":["top","span","dbl","sub","thick"],"range":[56,98],"padding":0},"axis":null},"x":{"datum":"Serum","type":"nominal","scale":{"type":"point","domain":["Serum","MPR.Scr.02","MPR.03","2F5.01","4E10.22"],"range":[148,520],"padding":0},"axis":null},"x2":{"datum":"4E10.22"}}},
    {"data":{"name":"tlines"},"transform":[{"filter":"datum.r=='dbl'"}],"mark":{"type":"rule","color":"#ffffff","strokeWidth":2.4,"xOffset":43,"x2Offset":50},
     "encoding":{"y":{"field":"r","type":"nominal","scale":{"type":"point","domain":["top","span","dbl","sub","thick"],"range":[56,98],"padding":0},"axis":null},"x":{"datum":"Serum","type":"nominal","scale":{"type":"point","domain":["Serum","MPR.Scr.02","MPR.03","2F5.01","4E10.22"],"range":[148,520],"padding":0},"axis":null},"x2":{"datum":"4E10.22"}}},
    {"data":{"name":"tlines"},"transform":[{"filter":"datum.r=='thick'"}],"mark":{"type":"rule","color":"#000","strokeWidth":3,"xOffset":-25,"x2Offset":48},
     "encoding":{"y":{"field":"r","type":"nominal","scale":{"type":"point","domain":["top","span","dbl","sub","thick"],"range":[56,98],"padding":0},"axis":null},"x":{"datum":"Serum","type":"nominal","scale":{"type":"point","domain":["Serum","MPR.Scr.02","MPR.03","2F5.01","4E10.22"],"range":[148,520],"padding":0},"axis":null},"x2":{"datum":"4E10.22"}}},
    {"data":{"name":"tbl"},"transform":[{"filter":"datum.serum=='DET 837'"}],"mark":{"type":"text","align":"right","dx":43.5,"dy":2.5,"font":"Liberation Sans","fontSize":15,"fontWeight":"bold"},
     "encoding":{"x":{"field":"c","type":"nominal","scale":{"type":"point","domain":["Serum","MPR.Scr.02","MPR.03","2F5.01","4E10.22"],"range":[148,520],"padding":0},"axis":null},"y":{"datum":"sub","type":"nominal","scale":{"type":"point","domain":["top","span","dbl","sub","thick"],"range":[56,98],"padding":0},"axis":null},"text":{"field":"c"}}},
    {"data":{"name":"thead"},"transform":[{"filter":"datum.t=='Serum'"}],"mark":{"type":"text","dx":10.5,"dy":2,"font":"Liberation Sans","fontSize":15,"fontWeight":"bold"},
     "encoding":{"x":{"datum":"Serum","type":"nominal","scale":{"type":"point","domain":["Serum","MPR.Scr.02","MPR.03","2F5.01","4E10.22"],"range":[148,520],"padding":0},"axis":null},"y":{"datum":"dbl","type":"nominal","scale":{"type":"point","domain":["top","span","dbl","sub","thick"],"range":[56,98],"padding":0},"axis":null},"text":{"field":"t"}}},
    {"data":{"name":"thead"},"transform":[{"filter":"datum.t!='Serum'"}],"mark":{"type":"text","dx":-42.5,"dy":1.5,"font":"Liberation Sans","fontSize":15,"fontWeight":"bold"},
     "encoding":{"x":{"datum":"2F5.01","type":"nominal","scale":{"type":"point","domain":["Serum","MPR.Scr.02","MPR.03","2F5.01","4E10.22"],"range":[148,520],"padding":0},"axis":null},"y":{"datum":"span","type":"nominal","scale":{"type":"point","domain":["top","span","dbl","sub","thick"],"range":[56,98],"padding":0},"axis":null},"text":{"field":"t"}}}
  ]},
  {"layer":[
    {"data":{"name":"tbl"},"transform":[{"filter":"datum.serum!='DET 943'"}],"mark":{"type":"text","font":"Liberation Sans","fontSize":15},
     "encoding":{"x":{"field":"c","type":"nominal","scale":{"type":"point","domain":["Serum","MPR.Scr.02","MPR.03","2F5.01","4E10.22"],"range":[148,520],"padding":0},"axis":null},"y":{"field":"serum","type":"nominal","scale":{"type":"band","domain":["DET 837","DET 885","DET 887","DET 943","DET 1363","DET 1505"],"range":[101.5,224],"paddingInner":0,"paddingOuter":0},"axis":null},"text":{"field":"v","type":"quantitative"}}},
    {"data":{"name":"tbl"},"transform":[{"filter":"datum.serum=='DET 943'"}],"mark":{"type":"text","font":"Liberation Sans","fontSize":15,"fontWeight":"bold"},
     "encoding":{"x":{"field":"c","type":"nominal","scale":{"type":"point","domain":["Serum","MPR.Scr.02","MPR.03","2F5.01","4E10.22"],"range":[148,520],"padding":0},"axis":null},"y":{"field":"serum","type":"nominal","scale":{"type":"band","domain":["DET 837","DET 885","DET 887","DET 943","DET 1363","DET 1505"],"range":[101.5,224],"paddingInner":0,"paddingOuter":0},"axis":null},"text":{"field":"v","type":"quantitative"}}},
    {"data":{"name":"tbl"},"transform":[{"filter":"datum.c=='MPR.Scr.02'"}],"mark":{"type":"text","align":"right","dx":42,"font":"Liberation Sans","fontSize":15,"fontWeight":"bold"},
     "encoding":{"x":{"datum":"Serum","type":"nominal","scale":{"type":"point","domain":["Serum","MPR.Scr.02","MPR.03","2F5.01","4E10.22"],"range":[148,520],"padding":0},"axis":null},"y":{"field":"serum","type":"nominal","scale":{"type":"band","domain":["DET 837","DET 885","DET 887","DET 943","DET 1363","DET 1505"],"range":[101.5,224],"paddingInner":0,"paddingOuter":0},"axis":null},"text":{"field":"serum"}}},
    {"data":{"name":"tlines"},"transform":[{"filter":"datum.r=='bottom'"}],"mark":{"type":"rule","color":"#000","strokeWidth":3,"xOffset":-25,"x2Offset":48},
     "encoding":{"y":{"datum":"DET 1505","type":"nominal","bandPosition":1,"scale":{"type":"band","domain":["DET 837","DET 885","DET 887","DET 943","DET 1363","DET 1505"],"range":[101.5,224],"paddingInner":0,"paddingOuter":0},"axis":null},"x":{"datum":"Serum","type":"nominal","scale":{"type":"point","domain":["Serum","MPR.Scr.02","MPR.03","2F5.01","4E10.22"],"range":[148,520],"padding":0},"axis":null},"x2":{"datum":"4E10.22"}}}
  ]}
 ]},
{"width":111,"height":58,"view":{"stroke":null},"data":{"name":"leg"},
 "encoding":{"x":{"field":"s","type":"nominal","scale":{"type":"point","domain":["7312A-C1","7312A"],"range":[-99,15],"padding":0},"axis":null},
  "color":{"field":"s","type":"nominal","scale":{"domain":["7312A-C1","7312A"],"range":["#000000","#2a8a2a"]},"legend":null}},
 "layer":[
  {"mark":{"type":"point","shape":"M-13,-1H13V1H-13ZM3.5,0A3.5,3.5,0,1,1,-3.5,0A3.5,3.5,0,1,1,3.5,0Z","size":4,"filled":true,"opacity":1,"strokeWidth":0}},
  {"mark":{"type":"text","align":"left","dx":18,"font":"Liberation Sans","fontSize":11.5},"encoding":{"text":{"field":"s"},"color":{"value":"#000"}}}
 ]}
]
}
